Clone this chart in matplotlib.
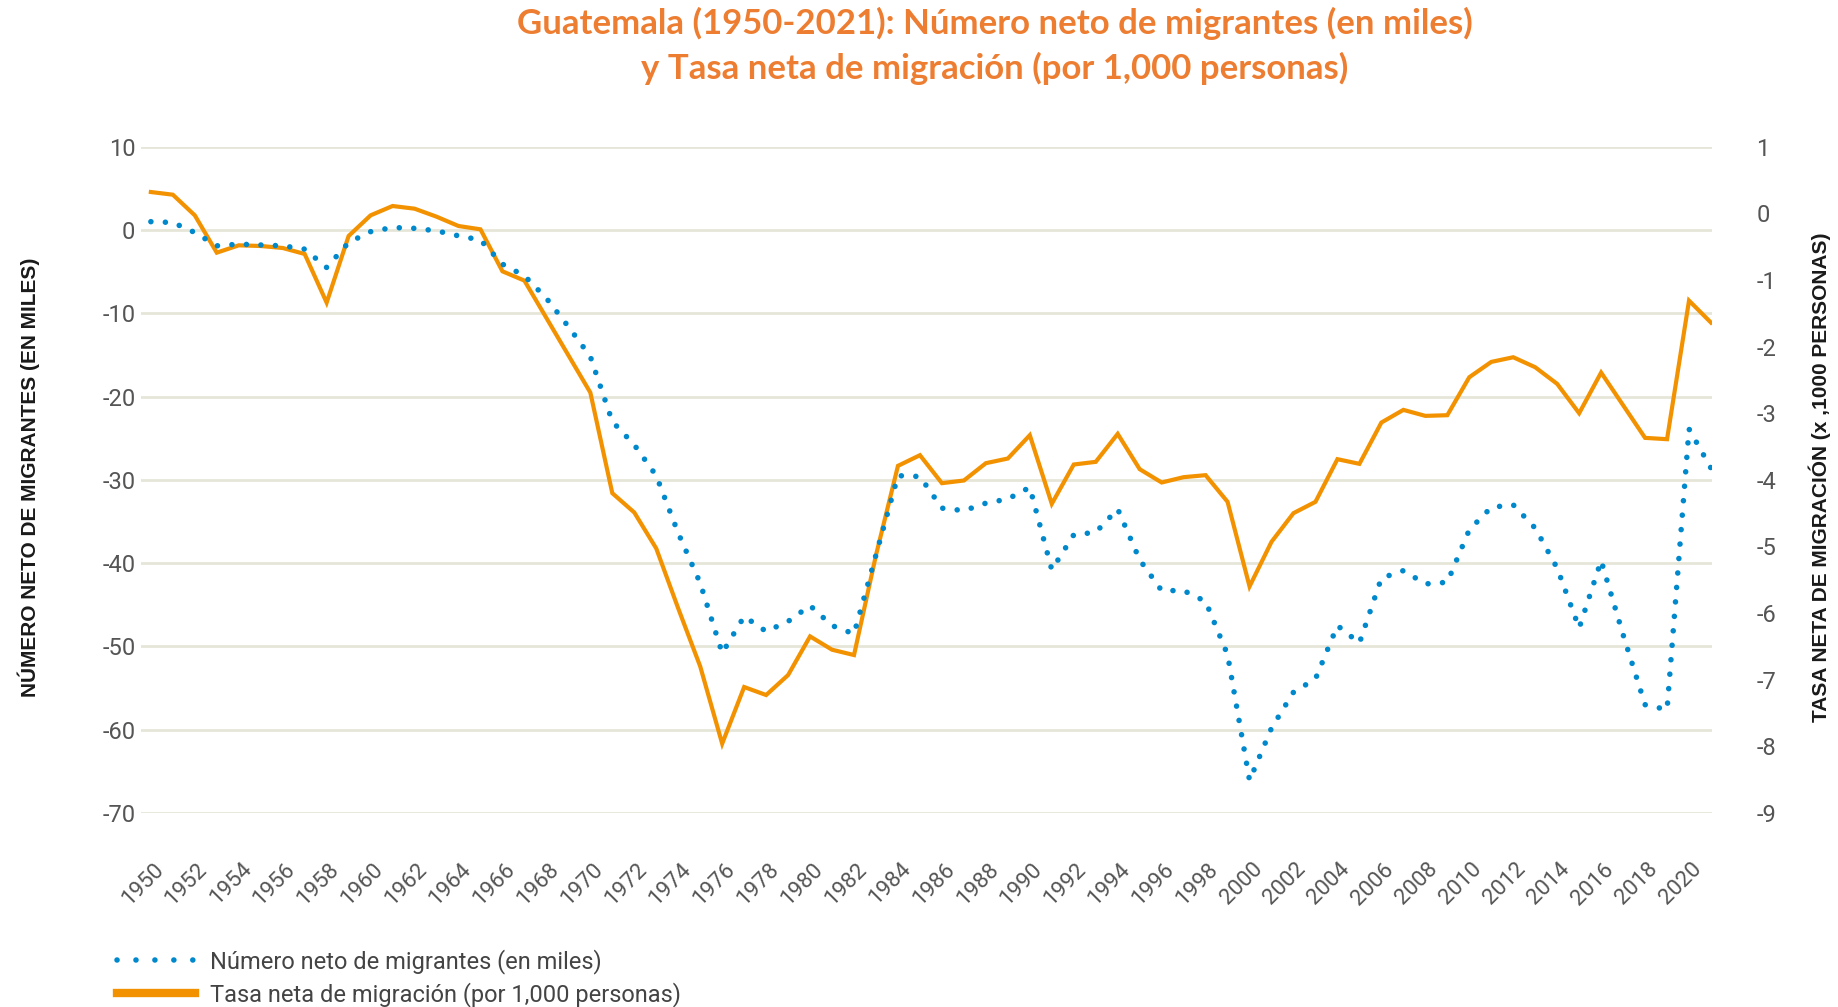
import matplotlib.pyplot as plt
from matplotlib.lines import Line2D
from matplotlib.transforms import ScaledTranslation

# Datos
anios = list(range(1950, 2022))

# Número neto de migrantes (en miles)
migrantes = [
    1.0, 0.9, -0.3, -1.9, -1.7, -1.8, -1.9, -2.3, -4.5, -1.5,
    -0.2, 0.3, 0.2, -0.1, -0.7, -1.2, -4.1, -5.5, -8.2, -11.6,
    -15.2, -23.0, -25.8, -29.5, -36.4, -42.4, -50.8, -46.4, -48.2, -47.0,
    -45.1, -47.5, -48.5, -39.0, -29.5, -29.6, -33.4, -33.7, -32.8, -32.3,
    -30.9, -40.8, -36.6, -36.3, -33.5, -39.6, -43.3, -43.3, -44.6, -51.0,
    -66.1, -59.8, -55.5, -53.9, -47.5, -49.6, -41.8, -40.9, -42.5, -42.3,
    -36.0, -33.3, -33.0, -35.8, -40.6, -47.8, -39.7, -48.6, -57.0, -57.6,
    -23.9, -28.6,
]

# Tasa neta de migración (por 1,000 personas)
tasa = [
    0.32, 0.28, -0.03, -0.59, -0.48, -0.49, -0.52, -0.61, -1.34, -0.34,
    -0.03, 0.11, 0.07, -0.05, -0.19, -0.24, -0.87, -1.01, -1.57, -2.13,
    -2.69, -4.20, -4.49, -5.03, -5.93, -6.80, -7.96, -7.11, -7.23, -6.93,
    -6.35, -6.55, -6.63, -5.13, -3.79, -3.63, -4.05, -4.01, -3.75, -3.68,
    -3.33, -4.36, -3.77, -3.73, -3.31, -3.84, -4.04, -3.96, -3.93, -4.33,
    -5.60, -4.93, -4.50, -4.33, -3.69, -3.76, -3.14, -2.95, -3.04, -3.03,
    -2.46, -2.23, -2.16, -2.31, -2.56, -3.00, -2.39, -2.88, -3.37, -3.39,
    -1.31, -1.64,
]

ticks_x = list(range(1950, 2021, 2))
ticks_izq = list(range(-70, 11, 10))
ticks_der = list(range(-9, 2))

azul = '#0088CC'
naranja = '#F39200'
gris = '#555555'

plt.rcParams['font.family'] = ['Roboto', 'DejaVu Sans']
plt.rcParams['axes.unicode_minus'] = False

fig = plt.figure(figsize=(18.38, 10.07), dpi=100)
fig.patch.set_facecolor('white')

# ax1: rejilla y escala izquierda; ax2: tasa (naranja); ax3: migrantes (azul, encima)
ax1 = fig.add_axes([0.0767, 0.1927, 0.8548, 0.6616])
ax2 = ax1.twinx()
ax3 = ax1.twinx()
ax3.sharey(ax1)
ax1.set_zorder(1)
ax2.set_zorder(2)
ax3.set_zorder(3)
ax2.patch.set_visible(False)
ax3.patch.set_visible(False)

ax2.plot(anios, tasa, color=naranja, lw=3, solid_joinstyle='miter')
ax3.plot(anios, migrantes, color=azul, lw=4,
         linestyle=(0, (0.01, 2.6)), dash_capstyle='round')

ax1.set_xlim(1949.55, 2021.05)
ax1.set_ylim(-70, 10)
ax2.set_ylim(-9, 1)
ax1.set_yticks(ticks_izq)
ax2.set_yticks(ticks_der)
ax1.set_xticks(ticks_x)
ax3.tick_params(left=False, right=False, labelleft=False, labelright=False)

# Rejilla horizontal
ax1.grid(axis='y', color='#E6E6D8', lw=2)

for ax in (ax1, ax2, ax3):
    for s in ax.spines.values():
        s.set_visible(False)

ax1.tick_params(axis='y', length=0, pad=4, labelsize=17, labelcolor=gris)
ax2.tick_params(axis='y', length=0, pad=32, labelsize=17, labelcolor=gris)
ax1.tick_params(axis='x', length=0, pad=33, labelsize=16, labelcolor=gris)

off = ScaledTranslation(2 / 100, 0, fig.dpi_scale_trans)
for lab in ax1.get_xticklabels():
    lab.set_rotation(45)
    lab.set_ha('right')
    lab.set_va('top')
    lab.set_rotation_mode('anchor')
    lab.set_transform(lab.get_transform() + off)

# Títulos de ejes
fig.text(0.0158, 0.5263, 'NÚMERO NETO DE MIGRANTES (EN MILES)', rotation=90,
         ha='center', va='center', fontsize=15, fontweight='bold',
         family='Liberation Sans', color='#1a1a1a')
fig.text(0.990, 0.5263, 'TASA NETA DE MIGRACIÓN (x ,1000 PERSONAS)', rotation=90,
         ha='center', va='center', fontsize=15, fontweight='bold',
         family='Liberation Sans', color='#1a1a1a')

# Título
fig.text(0.5414, 1 - 23 / 1007, 'Guatemala (1950-2021): Número neto de migrantes (en miles)',
         ha='center', va='center', fontsize=25, fontweight='bold',
         family='Lato', color='#ED7D31')
fig.text(0.5414, 1 - 68 / 1007, 'y Tasa neta de migración (por 1,000 personas)',
         ha='center', va='center', fontsize=25, fontweight='bold',
         family='Lato', color='#ED7D31')

# Leyenda
handles = [
    Line2D([], [], color=azul, lw=4, linestyle=(0, (0.01, 3.4)), dash_capstyle='round'),
    Line2D([], [], color=naranja, lw=6),
]
etiquetas = ['Número neto de migrantes (en miles)',
             'Tasa neta de migración (por 1,000 personas)']
fig.legend(handles, etiquetas, loc='upper left', bbox_to_anchor=(0.0637, 0.0576),
           frameon=False, fontsize=17, labelcolor='#444444', handlelength=3.3,
           handletextpad=0.65, labelspacing=0.35, borderpad=0, borderaxespad=0)

fig.savefig('out.png', dpi=100, facecolor='white')
